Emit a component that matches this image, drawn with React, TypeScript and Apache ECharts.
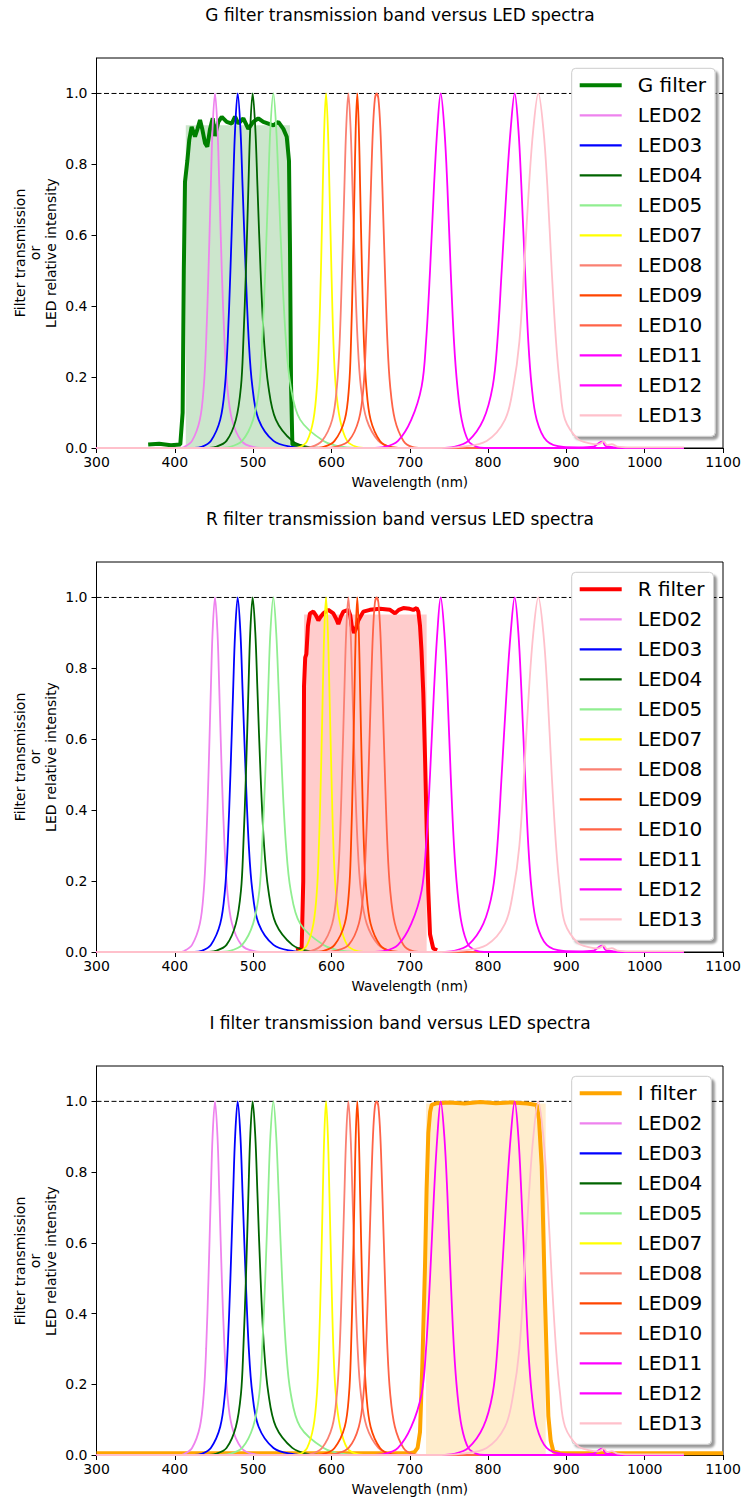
import React, { useEffect, useRef } from "react";
import * as echarts from "echarts";

const FONT = "DejaVu Sans";

// ---- x / y ticks ----
const xMin = 300;
const xMax = 1100;
const xInterval = 100;
const yTicks = [0, 0.2, 0.4, 0.6, 0.8, 1.0];

// ---- LED spectra: [wavelength nm, relative intensity] ----
const LED02: number[][] = [[300,0],[405,0],[412,0.003],[422,0.02],[432,0.08],[437,0.174],[440,0.3],[443,0.5],[446,0.74],[448.2,0.9],[451.3,1.0],[454.5,0.9],[456.8,0.74],[460,0.5],[463.5,0.3],[467,0.174],[473,0.08],[485,0.02],[500,0.003],[520,0],[1050,0]];
const LED03: number[][] = [[300,0],[425,0],[434,0.003],[446,0.02],[458,0.08],[464,0.174],[467.5,0.3],[471,0.5],[474.5,0.74],[477,0.9],[480.3,1.0],[483.8,0.9],[486.5,0.74],[490.5,0.5],[494.5,0.3],[499,0.174],[507,0.08],[526,0.02],[550,0.003],[570,0],[1050,0]];
const LED04: number[][] = [[300,0],[440,0],[452,0.003],[466,0.02],[478,0.08],[484.5,0.174],[487.5,0.3],[490.8,0.5],[494,0.74],[496.3,0.9],[499.4,1.0],[502.8,0.9],[505.5,0.74],[509.5,0.5],[514,0.3],[519.5,0.174],[529,0.08],[550,0.02],[570,0.003],[590,0],[1050,0]];
const LED05: number[][] = [[300,0],[455,0],[470,0.003],[486,0.02],[500,0.08],[508,0.174],[511.5,0.3],[515.5,0.5],[519.3,0.74],[522,0.9],[525.8,1.0],[529.5,0.9],[532.6,0.74],[537,0.5],[542,0.3],[548,0.174],[560,0.08],[590,0.02],[615,0.003],[640,0],[1050,0]];
const LED07: number[][] = [[300,0],[550,0],[560,0.003],[569,0.02],[577,0.08],[581.5,0.174],[584,0.3],[586.6,0.5],[589,0.74],[590.8,0.9],[593.1,1.0],[595.5,0.9],[597.4,0.74],[600,0.5],[602.5,0.3],[605.5,0.174],[611,0.08],[620,0.02],[632,0.003],[645,0],[1050,0]];
const LED08: number[][] = [[300,0],[560,0],[574,0.003],[588,0.02],[601,0.08],[607,0.174],[610.5,0.3],[613.5,0.5],[616.6,0.74],[618.8,0.9],[621.6,1.0],[624.5,0.9],[626.8,0.74],[630,0.5],[633.5,0.3],[637.5,0.174],[645,0.08],[660,0.02],[675,0.003],[690,0],[1050,0]];
const LED09: number[][] = [[300,0],[575,0],[590,0.003],[604,0.02],[617,0.08],[622.5,0.174],[625,0.3],[627.3,0.5],[629.5,0.74],[631,0.9],[633,1.0],[635,0.9],[636.6,0.74],[639,0.5],[641.5,0.3],[644.5,0.174],[650,0.08],[662,0.02],[675,0.003],[690,0],[1050,0]];
const LED10: number[][] = [[300,0],[592,0],[605,0.003],[622,0.02],[635,0.08],[641,0.174],[644,0.3],[647.3,0.5],[650.5,0.74],[653,0.9],[655.5,0.985],[657.8,1.0],[660,0.985],[662.5,0.9],[665,0.74],[668.3,0.5],[671.5,0.3],[675,0.174],[681,0.08],[692,0.02],[703,0.003],[715,0],[1050,0]];
const LED11: number[][] = [[300,0],[650,0],[668,0.003],[685,0.02],[702,0.08],[715.2,0.174],[720.8,0.3],[725.9,0.5],[731,0.74],[735.2,0.9],[739.5,1.0],[744.2,0.9],[748,0.74],[752.3,0.5],[756.5,0.3],[760.8,0.174],[766.3,0.08],[774.8,0.02],[785.5,0.003],[795,0],[1050,0]];
const LED12: number[][] = [[300,0],[740,0],[756,0.003],[774.8,0.02],[794,0.08],[805.9,0.174],[811.9,0.3],[817.4,0.5],[823.8,0.74],[828.9,0.9],[834,1.0],[838.7,0.9],[842.5,0.74],[847.2,0.5],[851.4,0.3],[855.7,0.174],[862.1,0.08],[874.9,0.02],[896,0.003],[915,0.002],[935,0.004],[942,0.015],[946,0.018],[950,0.006],[960,0.002],[1000,0],[1050,0]];
const LED13: number[][] = [[300,0],[740,0],[764,0.003],[798.2,0.02],[821.7,0.08],[832.3,0.174],[840,0.3],[845.9,0.5],[852.3,0.74],[857.8,0.9],[864.2,1.0],[870.6,0.9],[875.7,0.74],[881.3,0.5],[886.8,0.3],[891.9,0.174],[898.3,0.08],[915,0.025],[930,0.013],[940,0.01],[948,0.018],[952,0.008],[958,0.011],[965,0.004],[980,0.002],[1050,0.002]];

const ledNames = ["LED02","LED03","LED04","LED05","LED07","LED08","LED09","LED10","LED11","LED12","LED13"];
const ledColors = ["#EE82EE","#0000FF","#006400","#90EE90","#FFFF00","#FA8072","#FF4500","#FF6347","#FF00FF","#FF00FF","#FFC0CB"];
const ledData = [LED02, LED03, LED04, LED05, LED07, LED08, LED09, LED10, LED11, LED12, LED13];

// ---- filter transmission curves ----
const G_FILTER: number[][] = [[366,0.01],[380,0.012],[395,0.008],[407,0.01],[410,0.1],[411.5,0.5],[413,0.75],[416,0.81],[418.5,0.87],[421.5,0.906],[425.8,0.878],[429,0.9],[432.2,0.925],[435,0.9],[438.6,0.86],[441.5,0.85],[445,0.9],[448.4,0.93],[451.3,0.88],[455.6,0.92],[459.9,0.934],[466.3,0.92],[472.7,0.915],[476.9,0.935],[481.2,0.915],[487.5,0.93],[493.9,0.9],[500.2,0.92],[506.6,0.93],[513,0.92],[519.4,0.915],[525.8,0.91],[532.2,0.92],[538.6,0.9],[542.9,0.878],[545.8,0.81],[547.1,0.56],[548.4,0.18],[550.1,0.01],[564,0.003]];
const G_BAND: number[][] = [[414,0.91],[547,0.91]];

const R_FILTER: number[][] = [[555,0.005],[562,0.01],[564,0.2],[565,0.75],[566.5,0.83],[568,0.84],[570,0.92],[572.6,0.955],[576.9,0.96],[580,0.95],[583.3,0.935],[586,0.945],[589.6,0.955],[596,0.965],[602.4,0.955],[606,0.94],[608.8,0.925],[612,0.945],[615.2,0.96],[621.6,0.965],[624,0.95],[625.9,0.92],[628.8,0.9],[631,0.91],[634.3,0.935],[640.7,0.96],[649.2,0.965],[662,0.968],[674.8,0.965],[678,0.96],[681.2,0.955],[686,0.965],[691.8,0.97],[700,0.968],[704.6,0.965],[708.9,0.97],[711,0.96],[713.1,0.92],[715,0.85],[717.3,0.73],[719.5,0.55],[721.6,0.35],[723.7,0.17],[725.9,0.05],[730,0.01],[735,0.005]];
const R_BAND: number[][] = [[565,0.952],[721.6,0.952]];

const I_FILTER: number[][] = [[300,0.005],[400,0.005],[500,0.005],[600,0.005],[700,0.005],[706,0.008],[710,0.02],[713.1,0.065],[716,0.25],[719.5,0.535],[721.5,0.75],[723.7,0.91],[726,0.97],[728,0.99],[735,0.995],[750,0.997],[770,0.994],[790,0.998],[810,0.995],[830,0.997],[850,0.994],[862.1,0.99],[865,0.95],[868.5,0.817],[872.7,0.44],[877,0.11],[880,0.04],[883.4,0.01],[892,0.005],[950,0.005],[1000,0.005],[1050,0.005],[1100,0.005]];
const I_BAND: number[][] = [[720.8,0.994],[873.6,0.994]];

const UNITY_LINE: number[][] = [[300,1],[1100,1]];

const panels = [
  { title: "G filter transmission band versus LED spectra", name: "G filter", color: "#008000", band: G_BAND, bandColor: "rgba(0,128,0,0.2)", curve: G_FILTER },
  { title: "R filter transmission band versus LED spectra", name: "R filter", color: "#FF0000", band: R_BAND, bandColor: "rgba(255,0,0,0.2)", curve: R_FILTER },
  { title: "I filter transmission band versus LED spectra", name: "I filter", color: "#FFA500", band: I_BAND, bandColor: "rgba(255,165,0,0.2)", curve: I_FILTER },
];

const GRID_LEFT = 96.5;
const GRID_TOP = 58;
const GRID_W = 626.5;
const GRID_H = 390;

function buildOption(p: typeof panels[number]) {
  const series: any[] = [];
  series.push({
    type: "line", data: p.band, symbol: "none", silent: true,
    lineStyle: { width: 0, color: p.bandColor }, areaStyle: { color: p.bandColor, opacity: 1 },
    z: 1,
  });
  series.push({
    type: "line", data: UNITY_LINE, symbol: "none", silent: true,
    lineStyle: { color: "#000", width: 1, type: [5, 2.5] }, z: 2,
  });
  series.push({
    type: "line", name: p.name, data: p.curve, symbol: "none",
    itemStyle: { color: p.color }, lineStyle: { color: p.color, width: 4 }, z: 3,
  });
  ledNames.forEach((n, i) => {
    series.push({
      type: "line", name: n, data: ledData[i], symbol: "none", smooth: 0.35,
      itemStyle: { color: ledColors[i] }, lineStyle: { color: ledColors[i], width: 1.8 }, z: 4,
    });
  });
  return {
    animation: false,
    backgroundColor: "#fff",
    grid: { left: GRID_LEFT, top: GRID_TOP, width: GRID_W, height: GRID_H, show: true, borderColor: "#000", borderWidth: 1, backgroundColor: "transparent" },
    xAxis: {
      type: "value", min: xMin, max: xMax, interval: xInterval,
      axisLine: { show: true, onZero: false, lineStyle: { color: "#000", width: 1 } },
      axisTick: { show: true, length: 5, lineStyle: { color: "#000" } },
      axisLabel: { color: "#000", fontSize: 14, fontFamily: FONT, margin: 7, formatter: (v: number) => String(v) },
      splitLine: { show: false },
      name: "Wavelength (nm)", nameLocation: "middle", nameGap: 27,
      nameTextStyle: { color: "#000", fontSize: 13.5, fontFamily: FONT },
    },
    yAxis: {
      type: "value", min: 0, max: 1.1, interval: 0.2,
      axisLine: { show: true, lineStyle: { color: "#000", width: 1 } },
      axisTick: { show: true, length: 5, lineStyle: { color: "#000" }, customValues: yTicks },
      axisLabel: { color: "#000", fontSize: 14, fontFamily: FONT, margin: 9, customValues: yTicks, formatter: (v: number) => (v > 1.05 ? "" : v.toFixed(1)) },
      splitLine: { show: false },
    },
    legend: {
      orient: "vertical", left: 571.7, top: 68.3,
      data: [
        { name: p.name, lineStyle: { width: 4 } },
        ...ledNames.map((n) => ({ name: n, lineStyle: { width: 2.2 } })),
      ],
      itemWidth: 42, itemHeight: 20, itemGap: 10,
      padding: [7, 9, 11, 6],
      backgroundColor: "#fff", borderColor: "#cccccc", borderWidth: 1, borderRadius: 4,
      shadowColor: "rgba(0,0,0,0.4)", shadowBlur: 2, shadowOffsetX: 3, shadowOffsetY: 3,
      itemStyle: { opacity: 0 },
      textStyle: { color: "#000", fontSize: 20, fontFamily: FONT, lineHeight: 20, padding: [0, 0, 0, 11] },
      selectedMode: false,
    },
    graphic: [
      {
        type: "text", x: 400, y: 15,
        style: { text: p.title, textAlign: "center", textVerticalAlign: "middle", fontSize: 17, fontFamily: FONT, fill: "#000" },
      },
      {
        type: "text", x: 35, y: GRID_TOP + GRID_H / 2, rotation: Math.PI / 2,
        style: { text: "Filter transmission\nor\nLED relative intensity", textAlign: "center", textVerticalAlign: "middle", fontSize: 14, lineHeight: 15.5, fontFamily: FONT, fill: "#000" },
      },
    ],
    series,
  };
}

function Panel({ p, top, height }: { p: typeof panels[number]; top: number; height: number }) {
  const ref = useRef<HTMLDivElement>(null);
  useEffect(() => {
    if (!ref.current) return;
    const chart = echarts.init(ref.current, undefined, { renderer: "svg" });
    chart.setOption(buildOption(p) as any);
    return () => chart.dispose();
  }, [p]);
  return <div ref={ref} style={{ position: "absolute", left: 0, top, width: 745, height }} />;
}

export default function App() {
  return (
    <div style={{ position: "absolute", left: 0, top: 0, width: 745, height: 1501, background: "#fff" }}>
      <Panel p={panels[0]} top={0} height={504} />
      <Panel p={panels[1]} top={504} height={504} />
      <Panel p={panels[2]} top={1008} height={493} />
    </div>
  );
}
